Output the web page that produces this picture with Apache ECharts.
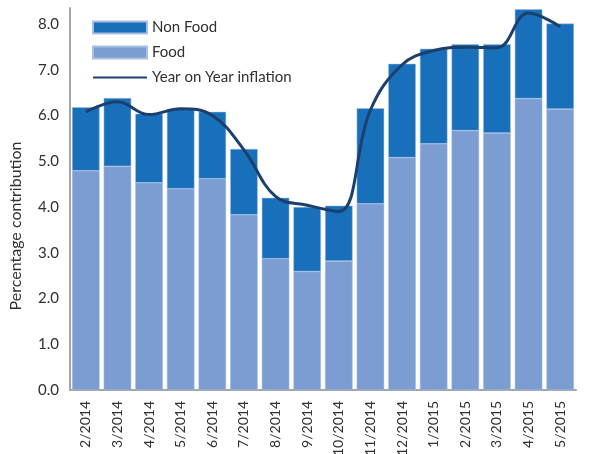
<!DOCTYPE html>
<html>
<head>
<meta charset="utf-8">
<script src="https://cdn.jsdelivr.net/npm/echarts@6/dist/echarts.min.js"></script>
<style>
  html, body { margin: 0; padding: 0; background: #fff; }
  #chart { width: 590px; height: 454px; }
</style>
</head>
<body>
<div id="chart"></div>
<script>
// month labels
const months = ["2/2014", "3/2014", "4/2014", "5/2014", "6/2014", "7/2014", "8/2014", "9/2014",
  "10/2014", "11/2014", "12/2014", "1/2015", "2/2015", "3/2015", "4/2015", "5/2015"];
// contributions (percentage points)
const food = [4.79, 4.89, 4.53, 4.40, 4.62, 3.83, 2.87, 2.59, 2.82, 4.07, 5.08, 5.38, 5.67, 5.62, 6.37, 6.14];
const nonFood = [1.39, 1.49, 1.51, 1.75, 1.46, 1.44, 1.33, 1.41, 1.21, 2.09, 2.05, 2.08, 1.89, 1.94, 1.95, 1.87];
// year on year inflation
const yoy = [6.08, 6.30, 6.02, 6.15, 6.00, 5.25, 4.23, 4.04, 3.90, 6.12, 7.11, 7.42, 7.49, 7.48, 8.24, 7.94];

const fontFam = "Lato, sans-serif";
const textCol = "#303030";

const chart = echarts.init(document.getElementById("chart"));

let option = {
  animation: false,
  textStyle: { fontFamily: fontFam },
  grid: { left: 70, right: 14, top: 8, bottom: 64, outerBoundsMode: "none" },
  legend: {
    orient: "vertical",
    left: 87,
    top: 15,
    itemWidth: 54,
    itemHeight: 12,
    itemGap: 10,
    textStyle: { fontSize: 15, color: textCol, fontFamily: fontFam },
    data: [
      { name: "Non Food", icon: "rect" },
      { name: "Food", icon: "rect" },
      // hide the marker dot, keep only the line
      { name: "Year on Year inflation", itemStyle: { opacity: 0 } },
    ],
  },
  xAxis: {
    type: "category",
    data: months,
    axisLine: { lineStyle: { color: "#a6a6a6", width: 2 } },
    axisTick: { show: false },
    axisLabel: { rotate: 90, margin: 11, fontSize: 14, color: textCol, interval: 0 },
  },
  yAxis: {
    type: "value",
    min: 0,
    max: 8.35,
    interval: 1,
    name: "Percentage contribution",
    nameLocation: "middle",
    nameGap: 46,
    nameTextStyle: { fontSize: 16, color: textCol, padding: [0, 54, 0, 0] },
    axisLine: { show: true, lineStyle: { color: "#a6a6a6", width: 2 } },
    axisTick: { show: false },
    splitLine: { show: false },
    axisLabel: {
      showMaxLabel: false,
      margin: 11,
      fontSize: 15,
      color: textCol,
      formatter: (v) => v.toFixed(1),
    },
  },
  series: [
    {
      name: "Food",
      type: "bar",
      stack: "total",
      barCategoryGap: "13%",
      itemStyle: { color: "#7b9dd2", borderColor: "#a9c0e4", borderWidth: 0.5 },
      data: food,
    },
    {
      name: "Non Food",
      type: "bar",
      stack: "total",
      itemStyle: { color: "#1770b9", borderColor: "#a9c0e4", borderWidth: 0.5 },
      data: nonFood,
    },
    {
      name: "Year on Year inflation",
      type: "line",
      smooth: 0.4,
      symbol: "none",
      lineStyle: { color: "#1c3f6e", width: 3 },
      itemStyle: { color: "#1c3f6e" },
      data: yoy,
      z: 5,
    },
  ],
};

chart.setOption(option);
</script>
</body>
</html>
